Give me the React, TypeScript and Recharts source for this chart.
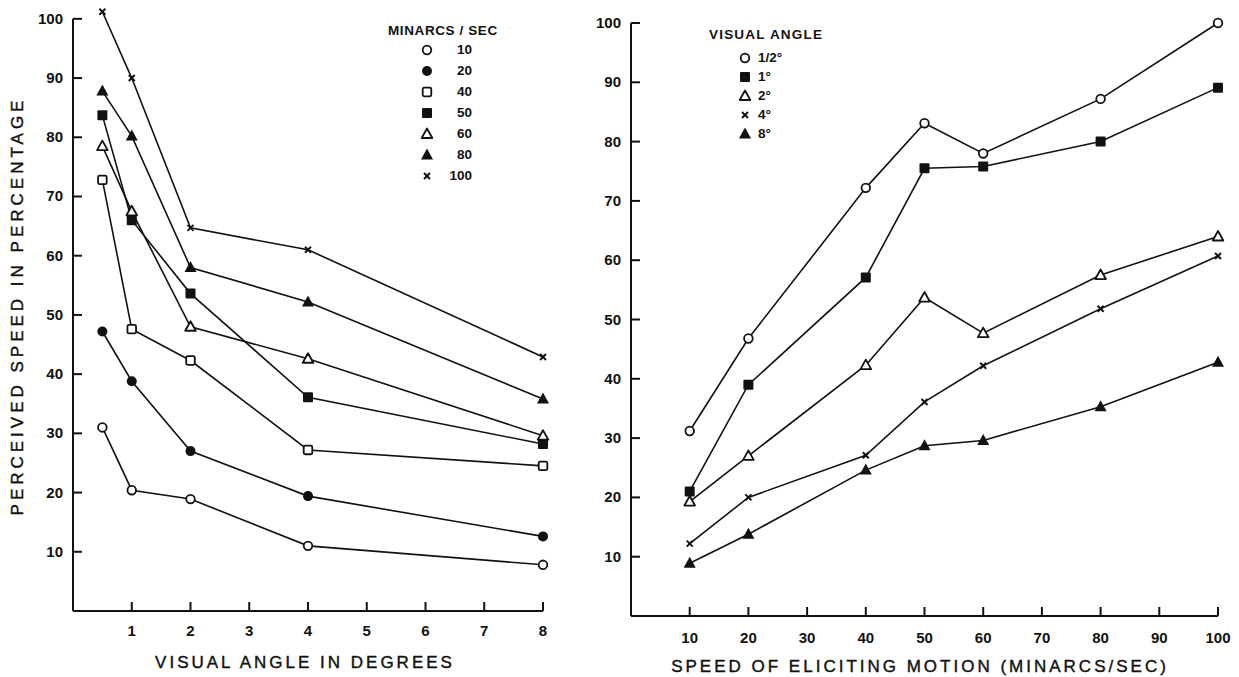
import React from 'react';
import { LineChart, Line, XAxis, YAxis, Legend, ReferenceLine } from 'recharts';

// left panel: perceived speed vs visual angle, one line per eliciting speed
const VISUAL_ANGLES = [0.5, 1, 2, 4, 8];
const ANGLE_TICKS = [1, 2, 3, 4, 5, 6, 7, 8];
const SPEED_10 = [31, 20.4, 18.9, 11, 7.8];
const SPEED_20 = [47.2, 38.8, 27, 19.4, 12.6];
const SPEED_40 = [72.8, 47.6, 42.3, 27.2, 24.5];
const SPEED_50 = [83.7, 66, 53.6, 36.1, 28.2];
const SPEED_60 = [78.5, 67.5, 48, 42.6, 29.6];
const SPEED_80 = [87.8, 80.2, 58, 52.2, 35.8];
const SPEED_100 = [101.2, 90, 64.7, 61, 42.9];

// right panel: perceived speed vs eliciting speed, one line per visual angle
const SPEEDS = [10, 20, 40, 50, 60, 80, 100];
const SPEED_TICKS = [10, 20, 30, 40, 50, 60, 70, 80, 90, 100];
const ANGLE_HALF = [31.2, 46.8, 72.2, 83.1, 78, 87.2, 100];
const ANGLE_1 = [21, 39, 57.1, 75.5, 75.8, 80, 89.1];
const ANGLE_2 = [19.3, 27, 42.3, 53.7, 47.7, 57.5, 64];
const ANGLE_4 = [12.2, 20, 27.1, 36.1, 42.2, 51.8, 60.7];
const ANGLE_8 = [8.9, 13.8, 24.6, 28.7, 29.6, 35.3, 42.8];

const PCT_TICKS = [10, 20, 30, 40, 50, 60, 70, 80, 90, 100];

const leftData = VISUAL_ANGLES.map((a, i) => ({
  angle: a,
  s10: SPEED_10[i],
  s20: SPEED_20[i],
  s40: SPEED_40[i],
  s50: SPEED_50[i],
  s60: SPEED_60[i],
  s80: SPEED_80[i],
  s100: SPEED_100[i],
}));

const rightData = SPEEDS.map((s, i) => ({
  speed: s,
  aHalf: ANGLE_HALF[i],
  a1: ANGLE_1[i],
  a2: ANGLE_2[i],
  a4: ANGLE_4[i],
  a8: ANGLE_8[i],
}));

const LEFT_SERIES = [
  { key: 's10', name: '10', marker: 'circleOpen' },
  { key: 's20', name: '20', marker: 'circleFilled' },
  { key: 's40', name: '40', marker: 'squareOpen' },
  { key: 's50', name: '50', marker: 'squareFilled' },
  { key: 's60', name: '60', marker: 'triOpen' },
  { key: 's80', name: '80', marker: 'triFilled' },
  { key: 's100', name: '100', marker: 'cross' },
];

const RIGHT_SERIES = [
  { key: 'aHalf', name: '1/2°', marker: 'circleOpen' },
  { key: 'a1', name: '1°', marker: 'squareFilled' },
  { key: 'a2', name: '2°', marker: 'triOpen' },
  { key: 'a4', name: '4°', marker: 'cross' },
  { key: 'a8', name: '8°', marker: 'triFilled' },
];

const FONT = '"Liberation Sans", Arial, sans-serif';
const INK = '#111';

function Marker({ kind, cx, cy }: { kind: string; cx: number; cy: number }) {
  switch (kind) {
    case 'circleOpen':
      return <circle cx={cx} cy={cy} r={4.3} fill="#fff" stroke={INK} strokeWidth={1.8} />;
    case 'circleFilled':
      return <circle cx={cx} cy={cy} r={5} fill={INK} />;
    case 'squareOpen':
      return <rect x={cx - 4.3} y={cy - 4.3} width={8.6} height={8.6} rx={1.5} fill="#fff" stroke={INK} strokeWidth={1.8} />;
    case 'squareFilled':
      return <rect x={cx - 5} y={cy - 5} width={10} height={10} rx={1} fill={INK} />;
    case 'triOpen':
      return (
        <polygon
          points={`${cx},${cy - 5.5} ${cx - 5.3},${cy + 4} ${cx + 5.3},${cy + 4}`}
          fill="#fff" stroke={INK} strokeWidth={1.8} strokeLinejoin="round"
        />
      );
    case 'triFilled':
      return <polygon points={`${cx},${cy - 6.5} ${cx - 6},${cy + 4.5} ${cx + 6},${cy + 4.5}`} fill={INK} />;
    case 'cross':
      return (
        <g stroke={INK} strokeWidth={2}>
          <line x1={cx - 3} y1={cy - 3} x2={cx + 3} y2={cy + 3} />
          <line x1={cx - 3} y1={cy + 3} x2={cx + 3} y2={cy - 3} />
        </g>
      );
    default:
      return null;
  }
}

const makeDot = (kind: string) => (p: any) => (
  <Marker key={`${kind}-${p.index}`} kind={kind} cx={p.cx} cy={p.cy} />
);

const tickText = { fontFamily: FONT, fontSize: 15, fontWeight: 700, fill: INK };

// ticks point into the plot, labels sit outside
const makeXTick = (labelGap: number) => (p: any) => (
  <g>
    <line x1={p.x} x2={p.x} y1={p.y} y2={p.y - 9} stroke={INK} strokeWidth={2} />
    <text x={p.x} y={p.y + labelGap} textAnchor="middle" style={tickText}>
      {p.payload.value}
    </text>
  </g>
);

const YTick = (p: any) => (
  <g>
    <line x1={p.x} x2={p.x + 9} y1={p.y} y2={p.y} stroke={INK} strokeWidth={2} />
    <text x={p.x - 10} y={p.y + 5} textAnchor="end" style={tickText}>
      {p.payload.value}
    </text>
  </g>
);

const legendTitle = { fontFamily: FONT, fontSize: 13.5, fontWeight: 700, color: INK, height: 16, lineHeight: '16px', whiteSpace: 'nowrap' as const };
const legendLabel = { fontFamily: FONT, fontSize: 13.5, fontWeight: 700, color: INK, whiteSpace: 'nowrap' as const };

function LegendMarker({ kind }: { kind: string }) {
  return (
    <svg width={16} height={16} style={{ display: 'block' }}>
      <Marker kind={kind} cx={8} cy={8} />
    </svg>
  );
}

const axisTitle = {
  position: 'absolute' as const,
  fontFamily: FONT,
  fontSize: 17,
  letterSpacing: 3,
  color: INK,
  WebkitTextStroke: '0.4px #111',
  whiteSpace: 'nowrap' as const,
  transform: 'translate(-50%, -50%)',
};

export default function App() {
  return (
    <div style={{ position: 'absolute', left: 0, top: 0, width: 1239, height: 677, background: '#fff', overflow: 'hidden' }}>
      {/* left panel */}
      <div style={{ position: 'absolute', left: 0, top: 0 }}>
        <LineChart width={600} height={677} data={leftData} margin={{ top: 7, left: 33, right: 57, bottom: 36 }}>
          <XAxis
            dataKey="angle"
            type="number"
            domain={[0, 8]}
            ticks={ANGLE_TICKS}
            interval={0}
            height={30}
            tickSize={0}
            tickMargin={0}
            tickLine={false}
            axisLine={{ stroke: INK, strokeWidth: 2 }}
            tick={makeXTick(25)}
          />
          <YAxis
            type="number"
            domain={[0, 102]}
            ticks={PCT_TICKS}
            interval={0}
            width={40}
            tickSize={0}
            tickMargin={0}
            tickLine={false}
            axisLine={false}
            tick={YTick}
          />
          <ReferenceLine segment={[{ x: 0, y: 0 }, { x: 0, y: 100 }]} stroke={INK} strokeWidth={2} ifOverflow="visible" />
          {LEFT_SERIES.map((s) => (
            <Line
              key={s.key}
              dataKey={s.key}
              name={s.name}
              type="linear"
              stroke={INK}
              strokeWidth={1.6}
              dot={makeDot(s.marker)}
              activeDot={false}
              isAnimationActive={false}
            />
          ))}
          <Legend
            layout="vertical"
            align="center"
            verticalAlign="middle"
            wrapperStyle={{ position: 'absolute', left: 388, top: 23, width: 140 }}
            content={() => (
              <div>
                <div style={{ ...legendTitle, letterSpacing: 0.6 }}>MINARCS / SEC</div>
                {LEFT_SERIES.map((s) => (
                  <div key={s.key} style={{ display: 'flex', alignItems: 'center', height: 21 }}>
                    <div style={{ marginLeft: 31 }}>
                      <LegendMarker kind={s.marker} />
                    </div>
                    <div style={{ ...legendLabel, width: 37, textAlign: 'right' }}>{s.name}</div>
                  </div>
                ))}
              </div>
            )}
          />
        </LineChart>
      </div>

      {/* right panel */}
      <div style={{ position: 'absolute', left: 580, top: 0 }}>
        <LineChart width={659} height={677} data={rightData} margin={{ top: 23, left: 11, right: 21, bottom: 31 }}>
          <XAxis
            dataKey="speed"
            type="number"
            domain={[0, 100]}
            ticks={SPEED_TICKS}
            interval={0}
            height={30}
            tickSize={0}
            tickMargin={0}
            tickLine={false}
            axisLine={{ stroke: INK, strokeWidth: 2 }}
            tick={makeXTick(27)}
          />
          <YAxis
            type="number"
            domain={[0, 100]}
            ticks={PCT_TICKS}
            interval={0}
            width={40}
            tickSize={0}
            tickMargin={0}
            tickLine={false}
            axisLine={{ stroke: INK, strokeWidth: 2 }}
            tick={YTick}
          />
          {RIGHT_SERIES.map((s) => (
            <Line
              key={s.key}
              dataKey={s.key}
              name={s.name}
              type="linear"
              stroke={INK}
              strokeWidth={1.6}
              dot={makeDot(s.marker)}
              activeDot={false}
              isAnimationActive={false}
            />
          ))}
          <Legend
            layout="vertical"
            align="center"
            verticalAlign="middle"
            wrapperStyle={{ position: 'absolute', left: 129, top: 27, width: 140 }}
            content={() => (
              <div>
                <div style={{ ...legendTitle, letterSpacing: 1.2 }}>VISUAL ANGLE</div>
                <div style={{ height: 5 }} />
                {RIGHT_SERIES.map((s) => (
                  <div key={s.key} style={{ display: 'flex', alignItems: 'center', height: 19 }}>
                    <div style={{ marginLeft: 28, marginRight: 5 }}>
                      <LegendMarker kind={s.marker} />
                    </div>
                    <div style={legendLabel}>{s.name}</div>
                  </div>
                ))}
              </div>
            )}
          />
        </LineChart>
      </div>

      {/* axis titles */}
      <div style={{ ...axisTitle, left: 305, top: 663 }}>VISUAL ANGLE IN DEGREES</div>
      <div style={{ ...axisTitle, left: 920, top: 667 }}>SPEED OF ELICITING MOTION (MINARCS/SEC)</div>
      <div style={{ ...axisTitle, left: 18, top: 306, transform: 'translate(-50%, -50%) rotate(-90deg)', letterSpacing: 4 }}>
        PERCEIVED SPEED IN PERCENTAGE
      </div>
    </div>
  );
}
